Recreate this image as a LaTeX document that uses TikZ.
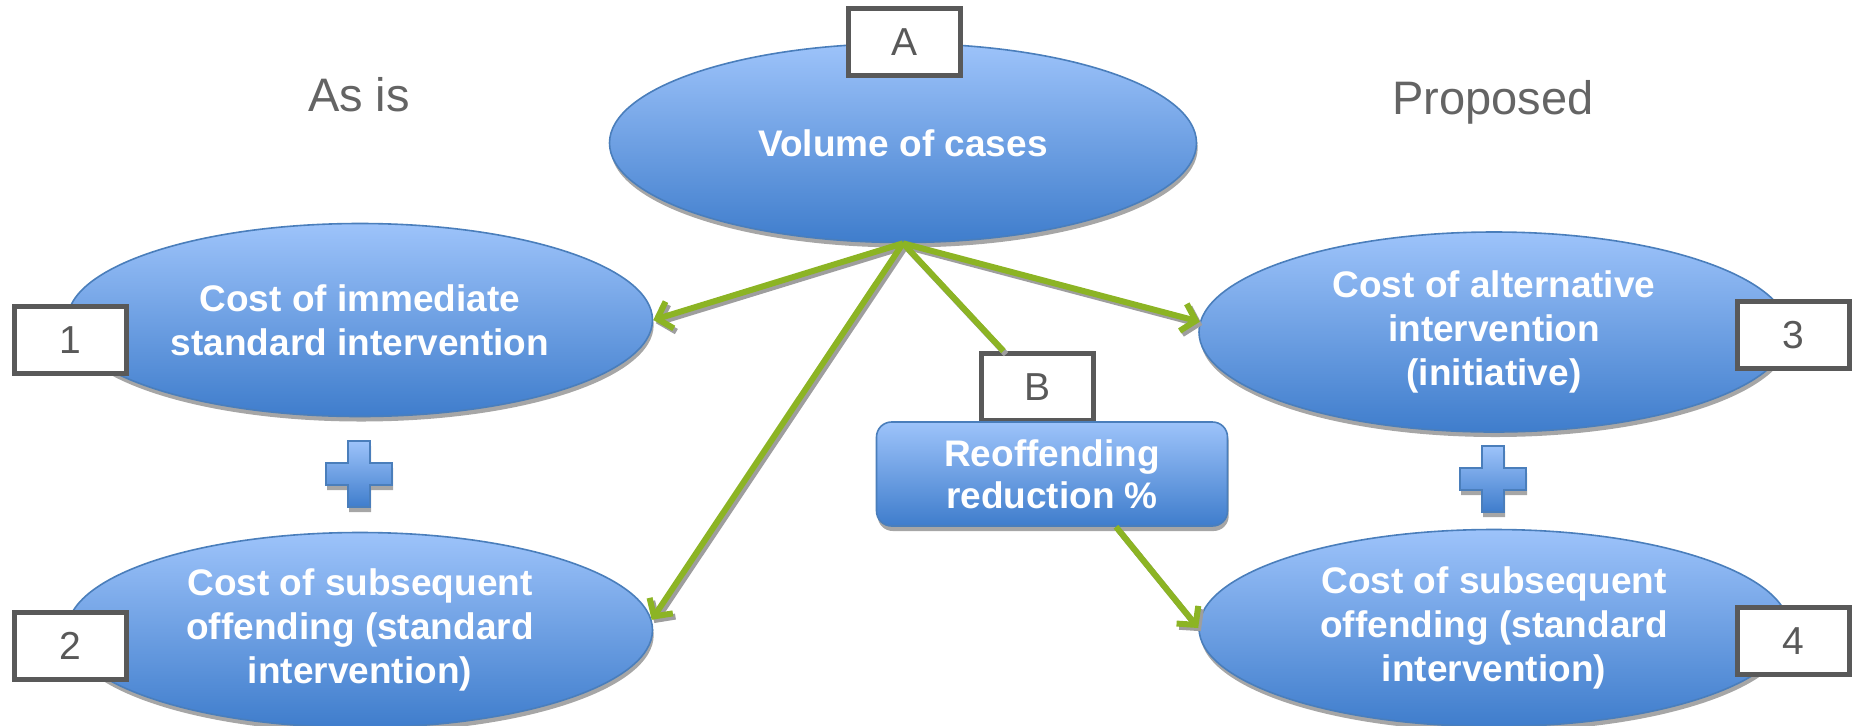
\documentclass[tikz,border=0pt]{standalone}
\usepackage{fontspec}
\setmainfont{Liberation Sans}
\usetikzlibrary{shapes.geometric,shadows,arrows.meta}
\definecolor{ellTop}{HTML}{9DC3FA}
\definecolor{ellBot}{HTML}{3F7DCC}
\definecolor{ellLine}{HTML}{4A7EBB}
\definecolor{lblGray}{HTML}{595959}
\definecolor{headGray}{HTML}{646464}
\definecolor{arrGreen}{HTML}{8CB424}
\begin{document}
\begin{tikzpicture}[x=0.5pt,y=-0.5pt,
  blob/.style={ellipse, inner sep=0pt, draw=ellLine, line width=0.8pt,
    top color=ellTop, bottom color=ellBot, text=white,
    font=\bfseries\fontsize{18.5}{22}\selectfont, align=center,
    drop shadow={shadow xshift=0.6pt, shadow yshift=-2.5pt, fill=black!35, opacity=1}},
  reobox/.style={rectangle, rounded corners=7.5pt, inner sep=0pt, draw=ellLine, line width=0.8pt,
    top color=ellTop, bottom color=ellBot, text=white,
    font=\bfseries\fontsize{18.5}{21}\selectfont, align=center,
    minimum width=175.5pt, minimum height=52pt,
    drop shadow={shadow xshift=0.6pt, shadow yshift=-2.5pt, fill=black!35, opacity=1}},
  lbl/.style={rectangle, draw=lblGray, line width=2.5pt, fill=white, text=lblGray,
    minimum width=56pt, minimum height=33.5pt, inner sep=0pt,
    font=\fontsize{19.5}{22}\selectfont},
  head/.style={text=headGray, font=\fontsize{23.5}{26}\selectfont, anchor=base, inner sep=0pt},
  conn/.style={draw=arrGreen, line width=3pt,
    preaction={draw=black!38, line width=3pt, transform canvas={shift={(1.3pt,-1.6pt)}}}},
  arr/.style={draw=arrGreen, line width=3pt, -{Straight Barb[length=6.5pt,width=14pt]},
    preaction={draw=black!38, line width=3pt, -{Straight Barb[length=6.5pt,width=14pt]},
      transform canvas={shift={(1.3pt,-1.6pt)}}}},
  plusfill/.style={draw=ellLine, line width=0.8pt, top color=ellTop, bottom color=ellBot,
    preaction={fill=black!35, transform canvas={shift={(0.6pt,-2.5pt)}}}},
  plussign/.pic={\path[plusfill] (-11,-33) -- (11,-33) -- (11,-11) -- (33,-11) -- (33,11)
     -- (11,11) -- (11,33) -- (-11,33) -- (-11,11) -- (-33,11) -- (-33,-11) -- (-11,-11) -- cycle;}
]
\useasboundingbox (0,0) rectangle (1858,725);

% headings
\node[head] (asis) at (359,111) {As is};
\node[head] (prop) at (1493,114) {Proposed};

% main shapes
\node[blob, minimum width=293.5pt, minimum height=99.5pt] (top) at (903,143) {Volume of cases};
\node[blob, minimum width=292.5pt, minimum height=96.5pt] (lt) at (360,320) {Cost of immediate\\standard intervention};
\node[blob, minimum width=292.5pt, minimum height=97.5pt] (lb) at (360,630) {Cost of subsequent\\offending (standard\\intervention)};
\node[blob, minimum width=295pt, minimum height=100pt] (rt) at (1494,332) {Cost of alternative\\intervention\\(initiative)};
\node[blob, minimum width=295pt, minimum height=98.5pt] (rb) at (1494,628) {Cost of subsequent\\offending (standard\\intervention)};

% plus signs
\pic at (359,474) {plussign};
\pic at (1493,479) {plussign};

% label boxes
\node[lbl] (la) at (904,42) {A};
\node[lbl] (l1) at (70,340) {1};
\node[lbl] (l2) at (70,646) {2};
\node[lbl] (l3) at (1793,335) {3};
\node[lbl] (l4) at (1793,641) {4};
\node[lbl] (lB) at (1037,387) {B};

\node[reobox] (reo) at (1052,474) {Reoffending\\reduction \%};

% connectors
\coordinate (O) at (top.south);
\coordinate (reoout) at ([xshift=32pt]reo.south);
\draw[arr] (O) -- (lt.east);
\draw[arr] (O) -- (lb.2);
\draw[arr] (O) -- (rt.178);
\draw[conn] (O) -- (lB);
\draw[arr] (reoout) -- (rb.west);
\end{tikzpicture}
\end{document}
